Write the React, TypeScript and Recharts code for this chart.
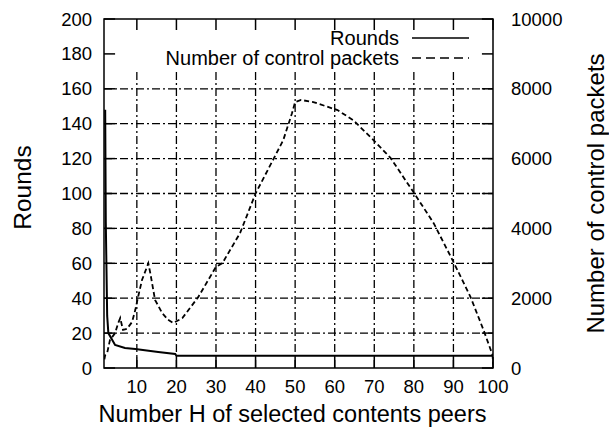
import {
  LineChart,
  Line,
  XAxis,
  YAxis,
  Legend,
  ReferenceLine,
  ReferenceArea,
} from "recharts";

const FONT = "'Liberation Sans', Arial, sans-serif";

// x = number H of selected contents peers
const roundsX = [2.0, 2.15, 2.5, 2.8, 4.5, 7, 9.6, 15.4, 19.7, 20, 100];
const roundsY = [148, 84, 30, 20, 13.2, 11.5, 10.9, 9.2, 8, 7, 7];

const packetsX = [
  1.8, 2.0, 2.5, 3.2, 4.5, 5.3, 5.8, 6.5, 7.5, 8.8, 9.6, 10.3, 11.3, 12.9, 13.4, 14.6,
  16.4, 17.9, 19.2, 21.5, 25.5, 30, 31.6, 36.1, 40, 44.4, 47, 49.2, 50, 51.5, 54.6,
  60.7, 64.7, 69.8, 74.1, 79.9, 85, 90, 94.3, 97.6, 99.9, 100,
];
const packetsY = [
  250, 370, 430, 800, 1000, 1290, 1430, 1090, 1120, 1320, 1660, 2030, 2520, 3000, 2720,
  1950, 1575, 1380, 1290, 1430, 2030, 2900, 3000, 3870, 5000, 5960, 6530, 7300, 7620,
  7680, 7620, 7390, 7100, 6530, 6020, 5040, 4150, 3040, 2040, 1090, 370, 100,
];

const xTicks = [10, 20, 30, 40, 50, 60, 70, 80, 90, 100];
const roundsTicks = [0, 20, 40, 60, 80, 100, 120, 140, 160, 180, 200];
const packetsTicks = [0, 2000, 4000, 6000, 8000, 10000];
const hGrid = [20, 40, 60, 80, 100, 120, 140, 160];
const vGrid = [10, 20, 30, 40, 50, 60, 70, 80, 90];
const legendOrder = ["rounds", "packets"];

const X_MIN = 1.7;
const X_MAX = 100;

const roundsData = roundsX.map((x, i) => ({ x, rounds: roundsY[i] }));
const packetsData = packetsX.map((x, i) => ({ x, packets: packetsY[i] }));

const renderLegend = (props: any) => {
  const items = [...(props.payload || [])].sort(
    (a: any, b: any) => legendOrder.indexOf(a.dataKey) - legendOrder.indexOf(b.dataKey)
  );
  return (
    <div style={{ fontFamily: FONT, fontSize: 20, color: "#000" }}>
      {items.map((entry: any) => (
        <div
          key={entry.value}
          style={{
            display: "flex",
            alignItems: "center",
            justifyContent: "flex-end",
            height: 20,
            lineHeight: "20px",
          }}
        >
          <span>{entry.value}</span>
          <svg width={60} height={10} style={{ marginLeft: 13 }}>
            <line
              x1={0}
              y1={5}
              x2={57}
              y2={5}
              stroke="#000"
              strokeWidth={1.5}
              strokeDasharray={entry.dataKey === "packets" ? "9 5" : undefined}
            />
          </svg>
        </div>
      ))}
    </div>
  );
};

export default function App() {
  const tickStyle = { fontFamily: FONT, fontSize: 18.5, fill: "#000" };
  const gridStyle = { stroke: "#000", strokeWidth: 1.3, strokeDasharray: "8 3 2 3" };

  return (
    <div style={{ position: "absolute", left: 0, top: 0, background: "#fff" }}>
      <LineChart
        width={609}
        height={428}
        margin={{ top: 19, right: 0, bottom: 0, left: 0 }}
      >
        <XAxis
          dataKey="x"
          type="number"
          domain={[X_MIN, X_MAX]}
          ticks={xTicks}
          allowDataOverflow
          height={60}
          tickLine={false}
          axisLine={false}
          tickSize={0}
          tickMargin={12}
          tick={tickStyle}
          label={{
            value: "Number H of selected contents peers",
            position: "center",
            dx: -6,
            dy: 16,
            style: { fontFamily: FONT, fontSize: 23.5, fill: "#000" },
          }}
        />
        <YAxis
          yAxisId="left"
          domain={[0, 200]}
          ticks={roundsTicks}
          width={104}
          tickLine={false}
          axisLine={false}
          tickSize={0}
          tickMargin={12}
          tick={tickStyle}
          label={{
            value: "Rounds",
            position: "center",
            angle: -90,
            dx: -30,
            dy: -6,
            style: { fontFamily: FONT, fontSize: 24.5, fill: "#000" },
          }}
        />
        <YAxis
          yAxisId="right"
          orientation="right"
          domain={[0, 10000]}
          ticks={packetsTicks}
          width={116}
          tickLine={false}
          axisLine={false}
          tickSize={0}
          tickMargin={18}
          tick={tickStyle}
          label={{
            value: "Number of control packets",
            position: "center",
            angle: -90,
            dx: 44,
            dy: 0,
            style: { fontFamily: FONT, fontSize: 24, fill: "#000" },
          }}
        />

        {hGrid.map((t) => (
          <ReferenceLine
            key={`hg${t}`}
            yAxisId="left"
            segment={[
              { x: X_MIN, y: t },
              { x: X_MAX, y: t },
            ]}
            {...gridStyle}
          />
        ))}
        {vGrid.map((t) => (
          <ReferenceLine
            key={`vg${t}`}
            yAxisId="left"
            segment={[
              { x: t, y: 0 },
              { x: t, y: 171 },
            ]}
            {...gridStyle}
          />
        ))}

        {roundsTicks.map((t) => (
          <ReferenceLine
            key={`lt${t}`}
            yAxisId="left"
            segment={[
              { x: X_MIN, y: t },
              { x: X_MIN + 2.8, y: t },
            ]}
            stroke="#000"
            strokeWidth={1.5}
          />
        ))}
        {roundsTicks.map((t) => (
          <ReferenceLine
            key={`rt${t}`}
            yAxisId="left"
            segment={[
              { x: X_MAX - 2.8, y: t },
              { x: X_MAX, y: t },
            ]}
            stroke="#000"
            strokeWidth={1.5}
          />
        ))}
        {xTicks.map((t) => (
          <ReferenceLine
            key={`bt${t}`}
            yAxisId="left"
            segment={[
              { x: t, y: 0 },
              { x: t, y: 6.3 },
            ]}
            stroke="#000"
            strokeWidth={1.5}
          />
        ))}
        {xTicks.map((t) => (
          <ReferenceLine
            key={`tt${t}`}
            yAxisId="left"
            segment={[
              { x: t, y: 200 - 6.3 },
              { x: t, y: 200 },
            ]}
            stroke="#000"
            strokeWidth={1.5}
          />
        ))}

        <ReferenceArea
          yAxisId="left"
          x1={X_MIN}
          x2={X_MAX}
          y1={0}
          y2={200}
          fill="none"
          fillOpacity={0}
          stroke="#000"
          strokeWidth={1.5}
        />

        <Line
          yAxisId="left"
          data={roundsData}
          dataKey="rounds"
          name="Rounds"
          type="linear"
          stroke="#000"
          strokeWidth={2}
          dot={false}
          activeDot={false}
          isAnimationActive={false}
        />
        <Line
          yAxisId="right"
          data={packetsData}
          dataKey="packets"
          name="Number of control packets"
          type="linear"
          stroke="#000"
          strokeWidth={1.8}
          strokeDasharray="5 3"
          dot={false}
          activeDot={false}
          isAnimationActive={false}
        />

        <Legend
          layout="vertical"
          align="center"
          verticalAlign="middle"
          content={renderLegend}
          wrapperStyle={{ position: "absolute", top: 28, left: 160, width: 312, height: 40 }}
        />
      </LineChart>
    </div>
  );
}
